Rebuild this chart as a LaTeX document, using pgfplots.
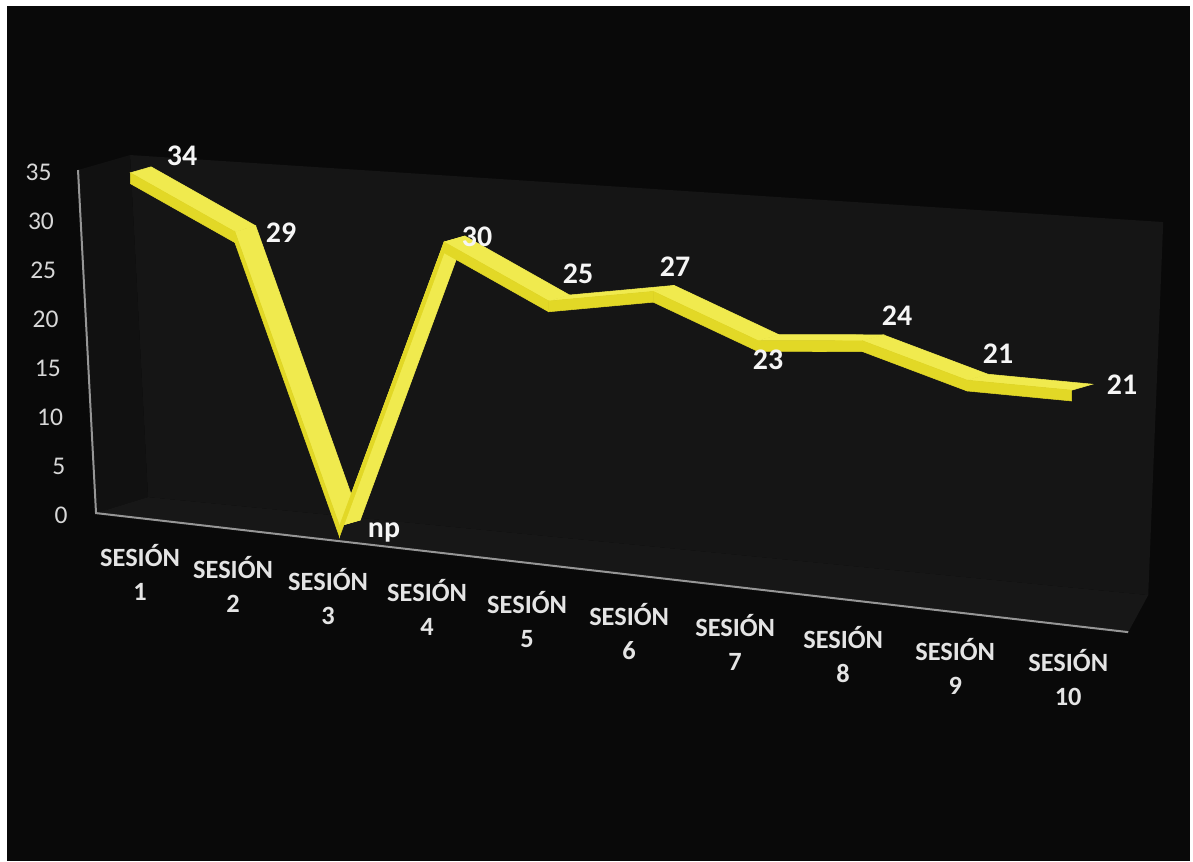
\documentclass[border=0pt]{standalone}
\usepackage{pgfplots}
\pgfplotsset{compat=1.18}
\usepackage{pgfplotstable}
\usepackage{fontspec}
\setmainfont{Carlito}
\definecolor{bg}{RGB}{9,9,9}
\definecolor{backwall}{RGB}{21,21,21}
\definecolor{leftwall}{RGB}{17,17,17}
\definecolor{floorc}{RGB}{23,23,23}
\definecolor{axline}{RGB}{150,150,150}
\definecolor{ticktxt}{RGB}{215,215,215}
\definecolor{cattxt}{RGB}{228,228,228}
\definecolor{lbltxt}{RGB}{245,245,245}
\tikzset{lbl/.style={inner sep=0pt, text=lbltxt, font=\bfseries\fontsize{17}{19}\selectfont}}

% ribbon top face: front edge (depth 0.3) and back edge (depth 0.7)
\pgfplotstableread{
x d v
1 0.3 34
2 0.3 29
3 0.3 0
4 0.3 30
5 0.3 25
6 0.3 27
7 0.3 23
8 0.3 24
9 0.3 21
10 0.3 21
1 0.7 34
2 0.7 29
3 0.7 0
4 0.7 30
5 0.7 25
6 0.7 27
7 0.7 23
8 0.7 24
9 0.7 21
10 0.7 21
}\ribbontop
% ribbon front face: value edge and lower edge (thickness 1.1)
\pgfplotstableread{
x d v off
1 0.3 34 0
2 0.3 29 0
3 0.3 0 0
4 0.3 30 0
5 0.3 25 0
6 0.3 27 0
7 0.3 23 0
8 0.3 24 0
9 0.3 21 0
10 0.3 21 0
1 0.3 34 1.1
2 0.3 29 1.1
3 0.3 0 1.1
4 0.3 30 1.1
5 0.3 25 1.1
6 0.3 27 1.1
7 0.3 23 1.1
8 0.3 24 1.1
9 0.3 21 1.1
10 0.3 21 1.1
}\ribbonfront

\pgfplotsset{
  colormap={frontc}{rgb255=(226,216,38) rgb255=(226,216,38)},
  colormap={topc}{rgb255=(240,234,78) rgb255=(240,234,78)},
}

\begin{document}
\begin{tikzpicture}
\useasboundingbox (0,0) rectangle (23.86cm,17.22cm);
\fill[white] (0,0) rectangle (23.86cm,17.22cm);
\begin{scope}[yshift=17.22cm, x=0.02cm, y=-0.02cm]
  \fill[bg] (7,6) rectangle (1190,861);
  % walls and floor
  \fill[backwall] (130,155) -- (1163,222) -- (1148,595) -- (148,497) -- cycle;
  \fill[leftwall] (78,170) -- (130,155) -- (148,497) -- (96,513) -- cycle;
  \fill[floorc] (96,513) -- (148,497) -- (1148,595) -- (1128,632) -- cycle;
  \draw[axline, line width=0.04cm] (78,170) -- (96,513) -- (1128,632);
  % value labels
  \foreach \v in {0,5,...,35}
    \node[anchor=east, inner sep=0pt, text=ticktxt, font=\fontsize{14.5}{16}\selectfont]
      at ({68-0.46*\v},{515-9.8*\v}) {\v};
  % category labels
  \foreach \i/\cx in {1/140,2/233,3/328,4/427,5/527,6/629,7/735,8/843,9/955,10/1068} {
    \node[anchor=base, inner sep=0pt, text=cattxt, font=\bfseries\fontsize{15}{18}\selectfont]
      at (\cx,{566.5+11.7*(\i-1)}) {SESIÓN};
    \node[anchor=base, inner sep=0pt, text=cattxt, font=\bfseries\fontsize{15}{18}\selectfont]
      at (\cx,{600.5+11.7*(\i-1)}) {\i};
  }
\end{scope}
\begin{axis}[
  anchor=origin, at={(0.202cm,7.21cm)},
  x={(2.092cm,-0.2cm)}, y={(1.04cm,0.3cm)}, z={(0cm,0.196cm)},
  xmin=0, xmax=11, ymin=0, ymax=1, zmin=0, zmax=35,
  hide axis, clip=false,
]
\addplot3[surf, shader=faceted, faceted color=mapped color, line width=0.3pt,
  colormap name=topc, mesh/cols=10]
  table[x=x, y=d, z=v] {\ribbontop};
\addplot3[surf, shader=faceted, faceted color=mapped color, line width=0.3pt,
  colormap name=frontc, mesh/cols=10]
  table[x=x, y=d, z expr=\thisrow{v}-\thisrow{off}] {\ribbonfront};
\node[lbl, xshift={51.7*0.02cm}, yshift={16.8*0.02cm}] at (axis cs:1,0.3,34) {34};
\node[lbl, xshift={46.1*0.02cm}, yshift={-1.2*0.02cm}] at (axis cs:2,0.3,29) {29};
\node[lbl, xshift={44.5*0.02cm}, yshift={-6*0.02cm}] at (axis cs:3,0.3,0) {np};
\node[lbl, xshift={32.9*0.02cm}, yshift={5*0.02cm}] at (axis cs:4,0.3,30) {30};
\node[lbl, xshift={29.3*0.02cm}, yshift={27*0.02cm}] at (axis cs:5,0.3,25) {25};
\node[lbl, xshift={21.7*0.02cm}, yshift={24.4*0.02cm}] at (axis cs:6,0.3,27) {27};
\node[lbl, xshift={10.1*0.02cm}, yshift={-19.4*0.02cm}] at (axis cs:7,0.3,23) {23};
\node[lbl, xshift={34.5*0.02cm}, yshift={24.8*0.02cm}] at (axis cs:8,0.3,24) {24};
\node[lbl, xshift={30.9*0.02cm}, yshift={26.2*0.02cm}] at (axis cs:9,0.3,21) {21};
\node[lbl, xshift={50.3*0.02cm}, yshift={5.2*0.02cm}] at (axis cs:10,0.3,21) {21};
\end{axis}
\end{tikzpicture}
\end{document}
